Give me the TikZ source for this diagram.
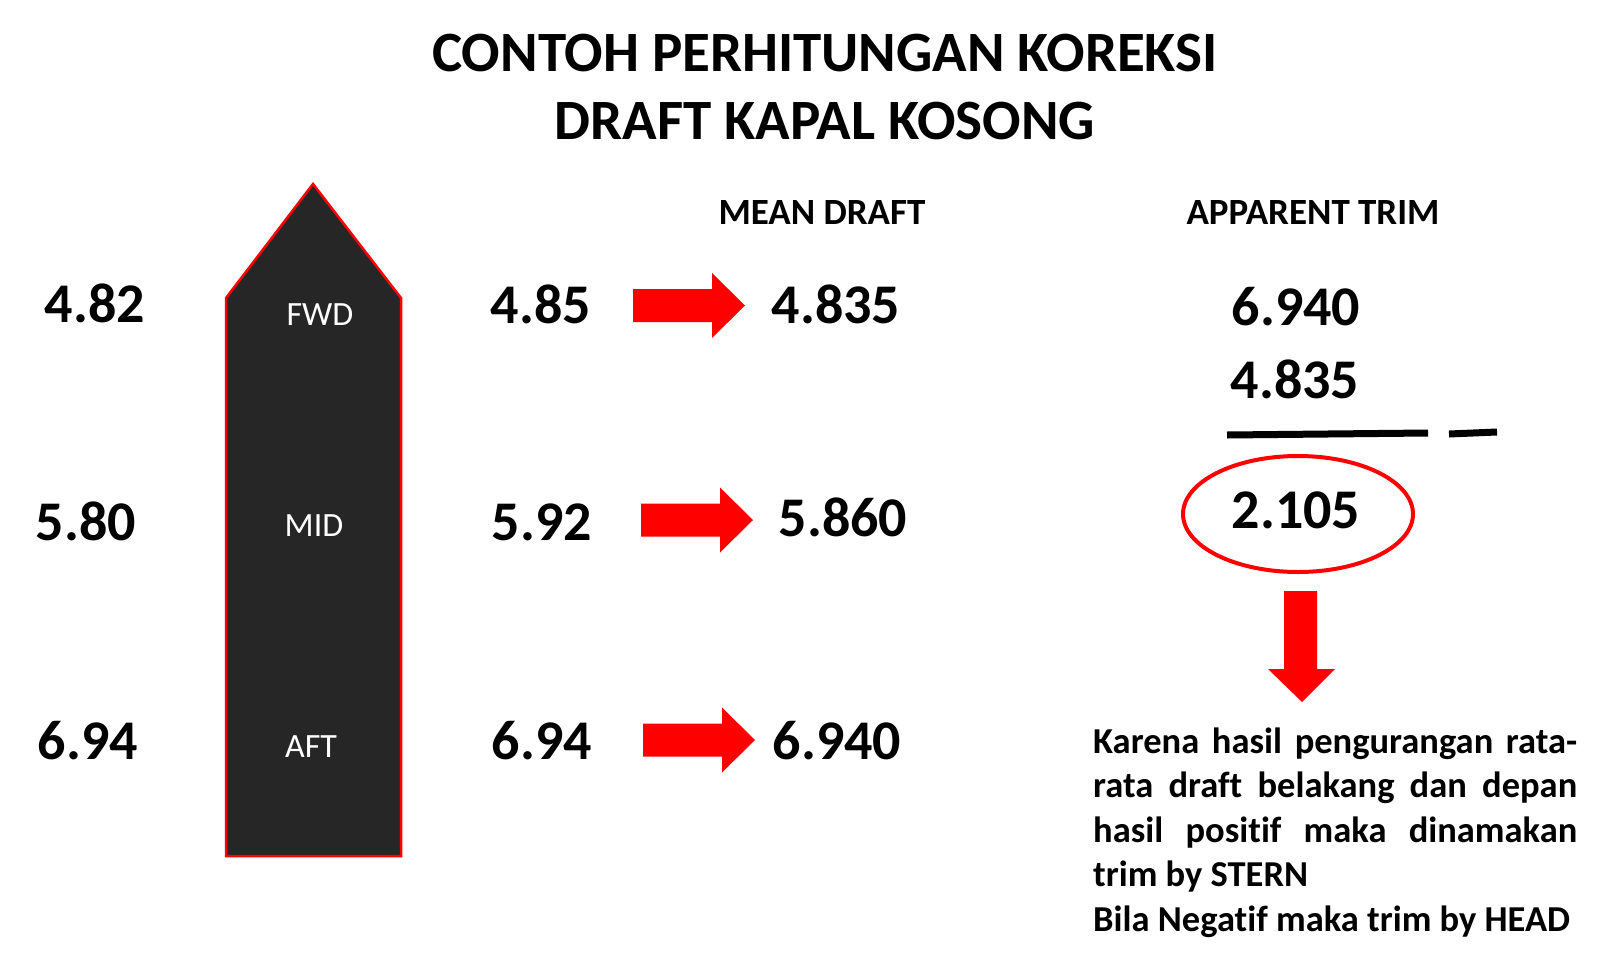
\documentclass[tikz,border=0pt]{standalone}
\usepackage{fontspec}
\setmainfont[RawFeature={-liga}]{Carlito}
\definecolor{ared}{HTML}{FF0000}
\definecolor{hull}{HTML}{262626}
\tikzset{
  num/.style={anchor=base, inner sep=0pt, font=\fontsize{56}{60}\selectfont\bfseries},
  head/.style={anchor=base, inner sep=0pt, font=\fontsize{37}{44}\selectfont\bfseries},
  ttl/.style={anchor=base, inner sep=0pt, font=\fontsize{57}{67}\selectfont\bfseries},
  lbl/.style={anchor=base, inner sep=0pt, text=white, font=\fontsize{34}{40}\selectfont},
  expl/.style={anchor=base west, inner sep=0pt, font=\fontsize{36.5}{44}\selectfont\bfseries},
  rarrow/.pic={\fill[ared] (0,-16.5) -- (79,-16.5) -- (79,-32.5) -- (112,0) -- (79,32.5) -- (79,16.5) -- (0,16.5) -- cycle;},
}
\begin{document}
\begin{tikzpicture}[x=1pt,y=-1pt]
\useasboundingbox (0,0) rectangle (1600,961);
% title
\node[ttl] (t1) at (825,71) {CONTOH PERHITUNGAN KOREKSI};
\node[ttl] (t2) at (825,139) {DRAFT KAPAL KOSONG};
% ship
\filldraw[fill=hull, draw=ared, line width=2.5pt] (313,184) -- (401,298) -- (401,856) -- (226,856) -- (226,298) -- cycle;
\node[lbl] (fwd) at (320,325) {FWD};
\node[lbl] (mid) at (314,536) {MID};
\node[lbl] (aft) at (311,757) {AFT};
% left readings
\node[num] (l1) at (95,322) {4.82};
\node[num] (l2) at (86,540) {5.80};
\node[num] (l3) at (88,759) {6.94};
% middle readings
\node[num] (m1) at (541,323) {4.85};
\node[num] (m2) at (542,540) {5.92};
\node[num] (m3) at (542,759) {6.94};
% arrows
\pic at (633,305.5) {rarrow};
\pic at (641,520) {rarrow};
\pic at (643,740) {rarrow};
% mean draft
\node[head] (md) at (822,224) {MEAN DRAFT};
\node[num] (r1) at (836,323) {4.835};
\node[num] (r2) at (843,536) {5.860};
\node[num] (r3) at (837,759) {6.940};
% apparent trim
\node[head] (at) at (1313,224) {APPARENT TRIM};
\node[num] (a1) at (1296,325) {6.940};
\node[num] (a2) at (1295,398) {4.835};
\draw[line width=7pt] (1227,435) -- (1428,433);
\draw[line width=7pt] (1449,434) -- (1497,432);
\node[num] (res) at (1296,528) {2.105};
\draw[ared, line width=4pt] (1298,514) ellipse [x radius=115, y radius=58];
% down arrow
\fill[ared] (1284,591) -- (1317,591) -- (1317,669) -- (1335,669) -- (1302,702) -- (1268,669) -- (1284,669) -- cycle;
% explanation
\node[expl] (e1) at (1093,753) {\makebox[484pt][s]{Karena hasil pengurangan rata-}};
\node[expl] (e2) at (1093,797.5) {\makebox[484pt][s]{rata draft belakang dan depan}};
\node[expl] (e3) at (1093,842) {\makebox[484pt][s]{hasil positif maka dinamakan}};
\node[expl] (e4) at (1093,886.5) {trim by STERN};
\node[expl] (e5) at (1093,931) {Bila Negatif maka trim by HEAD};
\end{tikzpicture}
\end{document}
